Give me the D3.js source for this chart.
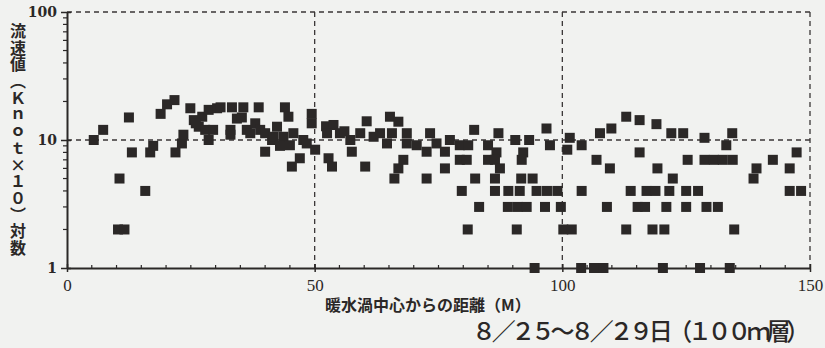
<!DOCTYPE html>
<html>
<head>
<meta charset="utf-8">
<script src="https://cdn.jsdelivr.net/npm/d3@7"></script>
<style>
  body { margin: 0; background: #f1f2f0; }
  svg { display: block; }
</style>
</head>
<body>
<svg id="chart" width="825" height="348"></svg>
<script>
// distance from eddy centre (M) and current speed (knot x10)
const distance = [
  // 0 - 50
  5.4, 7.3, 12.5, 10.3, 11.6, 10.6, 13.1, 15.8, 16.8, 17.4, 18.9, 20.2, 21.7, 21.9,
  23.2, 23.5, 24.9, 25.6, 26.6, 27.3, 27.9, 28.6, 28.6, 30.3, 31, 33, 33, 33.3,
  34.3, 35.6, 36.3, 37, 38, 38.7, 39, 40, 40, 41.4, 41.7, 42.4, 43.7, 44, 44.7,
  45, 45.4, 45.7, 47, 47.7, 48.4, 49.4, 49.4, 50.1, 26, 29.5, 35.3, 43,
  // 50 - 85
  52.3, 53.8, 52.5, 55.1, 52.8, 53.5, 56, 57.2, 57.5, 59.2, 60.5, 60.2, 61.9, 63.2,
  64.6, 65.2, 65.6, 66.9, 66.1, 66.9, 67.9, 68.6, 68.6, 70.6, 72.6, 72.6, 73.3,
  74.6, 76.3, 76.3, 77.3, 79.3, 81, 79.3, 80.7, 82.2, 82.4, 79.7, 83.2, 80.9,
  // 85 - 150
  85, 87.1, 90.5, 93.3, 96.8, 97.5, 101.5, 101, 103.9, 107.6, 109.9, 112.9, 115.6,
  119, 122, 124.4, 128.7, 134.3, 133.1,
  86.7, 92.1, 115.6, 147.3,
  85, 86.4, 91.8, 106.9, 125.3, 128.7, 130.6, 132.4, 134.4, 142.5,
  87.4, 109.6, 119.2, 139.2, 145.9,
  86.4, 91.7, 94, 122.3, 138.6,
  86.4, 89.1, 91.4, 94.8, 96.9, 99, 103.9, 113.8, 117, 118.8, 121.6, 125, 127.4, 145.9, 148.2,
  89, 91, 92.8, 96.5, 99.7, 109, 115.2, 116.7, 121, 125, 129.1, 131.4,
  90.8, 100.2, 101.9, 112.9, 118.2, 120.6, 134.7,
  94.4, 103.8, 106.4, 108.3, 120.3, 127.8, 133.8
];
const speed = [
  // 0 - 50
  10, 12, 15, 2, 2, 5, 8, 4, 8, 9, 16, 19, 20.5, 8,
  9.4, 11, 17.7, 14.3, 12.7, 15.2, 12, 17.2, 10, 17.7, 18, 12, 11, 18,
  14.7, 18, 12, 11.3, 13.5, 18, 12, 11.3, 8.1, 10, 10.6, 12.7, 10.6, 18, 15.2,
  9.1, 6.2, 11.3, 7.2, 10, 9.4, 16, 13.5, 8.4, 13.5, 12, 15, 9,
  // 50 - 85
  12.8, 13.1, 11.3, 11.3, 7.2, 6.2, 11.7, 10, 8.1, 11.3, 14, 6.2, 10.6, 11.3,
  9.4, 15.2, 11.3, 13.9, 5, 6, 7, 11.3, 9.4, 9.1, 8.1, 5, 11.3,
  9.4, 8.1, 6, 10, 9.1, 9.1, 7, 7, 12, 5, 4, 3, 2,
  // 85 - 150
  9.1, 11.3, 10, 10, 12.3, 9.1, 10.4, 8.4, 9.1, 11.3, 12.3, 15.2, 14.3,
  13.3, 11.3, 11.3, 10.4, 11.3, 9.1,
  8, 8, 8, 8,
  7, 7, 7, 7, 7, 7, 7, 7, 7, 7,
  6, 6, 6, 6, 6,
  5, 5, 5, 5, 5,
  4, 4, 4, 4, 4, 4, 4, 4, 4, 4, 4, 4, 4, 4, 4,
  3, 3, 3, 3, 3, 3, 3, 3, 3, 3, 3, 3,
  2, 2, 2, 2, 2, 2, 2,
  1, 1, 1, 1, 1, 1, 1
];

const xTicks = [0, 50, 100, 150];
const yTicks = [1, 10, 100];
const xGrid = [50, 100, 150];
const yGrid = [10, 100];
const yTitle = "流速値（Ｋｎｏｔ×１０）対数";
const xTitle = "暖水渦中心からの距離（M）";
const subTitle = "８／２５～８／２９日（１００ｍ層）";

const ink = "#2b2827";
const svg = d3.select("#chart");

const x = d3.scaleLinear().domain([0, 150]).range([67, 810]);
const y = d3.scaleLog().domain([1, 100]).range([268, 12]);

// dashed grid
svg.append("g").selectAll("line").data(xGrid).join("line")
  .attr("x1", d => x(d)).attr("x2", d => x(d))
  .attr("y1", y(100)).attr("y2", y(1))
  .attr("stroke", "#3a3636").attr("stroke-width", 1.3)
  .attr("stroke-dasharray", "5,4");
svg.append("g").selectAll("line").data(yGrid).join("line")
  .attr("x1", x(0)).attr("x2", x(150))
  .attr("y1", d => y(d)).attr("y2", d => y(d))
  .attr("stroke", "#3a3636").attr("stroke-width", 1.3)
  .attr("stroke-dasharray", "5,4");

// x axis
const gx = svg.append("g").attr("transform", `translate(0,${y(1)})`)
  .call(d3.axisBottom(x).tickValues(xTicks).tickSize(4).tickPadding(7).tickSizeOuter(0));
gx.select(".domain").attr("stroke", ink).attr("stroke-width", 2);
gx.selectAll(".tick line").attr("y1", -4).attr("y2", 4).attr("stroke", ink).attr("stroke-width", 1.5);
gx.selectAll(".tick text")
  .attr("font-family", "Liberation Serif").attr("font-size", 17).attr("fill", ink);
gx.selectAll(".minor").data(d3.range(5, 150, 5).filter(d => d % 50))
  .join("line").attr("class", "minor")
  .attr("x1", d => x(d)).attr("x2", d => x(d))
  .attr("y1", 0).attr("y2", -3)
  .attr("stroke", ink).attr("stroke-width", 1.2);

// y axis
const gy = svg.append("g").attr("transform", `translate(${x(0)},0)`)
  .call(d3.axisLeft(y).tickValues(yTicks).tickFormat(d3.format("d"))
    .tickSize(6).tickPadding(4).tickSizeOuter(0));
gy.select(".domain").attr("stroke", ink).attr("stroke-width", 2);
gy.selectAll(".tick line").attr("x1", -6).attr("x2", 4).attr("stroke", ink).attr("stroke-width", 1.5);
gy.selectAll(".tick text")
  .attr("font-family", "DejaVu Serif").attr("font-weight", "bold")
  .attr("font-size", 14).attr("fill", ink);
const minorY = [2, 3, 4, 5, 6, 7, 8, 9, 20, 30, 40, 50, 60, 70, 80, 90];
gy.selectAll(".minor").data(minorY).join("line").attr("class", "minor")
  .attr("x1", -4).attr("x2", 0)
  .attr("y1", d => y(d)).attr("y2", d => y(d))
  .attr("stroke", ink).attr("stroke-width", 1.2);

// points
const size = 10;
svg.append("g").selectAll("rect").data(distance).join("rect")
  .attr("x", d => x(d) - size / 2)
  .attr("y", (d, i) => y(speed[i]) - size / 2)
  .attr("width", size).attr("height", size)
  .attr("fill", ink);

// titles
svg.append("text")
  .attr("x", 18).attr("y", 23)
  .style("writing-mode", "vertical-rl")
  .style("text-orientation", "upright")
  .attr("font-family", "Noto Sans CJK JP").attr("font-weight", "bold")
  .attr("font-size", 16).attr("letter-spacing", 0.7)
  .attr("fill", ink)
  .text(yTitle);

svg.append("text")
  .attr("x", 325).attr("y", 311)
  .attr("font-family", "Noto Sans CJK JP").attr("font-weight", "bold")
  .attr("font-size", 16).attr("fill", ink)
  .text(xTitle);

svg.append("text")
  .attr("x", 472).attr("y", 340)
  .attr("font-family", "Noto Sans CJK JP").attr("font-weight", 500)
  .attr("font-size", 24).attr("fill", ink)
  .attr("textLength", 338).attr("lengthAdjust", "spacing")
  .text(subTitle);
</script>
</body>
</html>
